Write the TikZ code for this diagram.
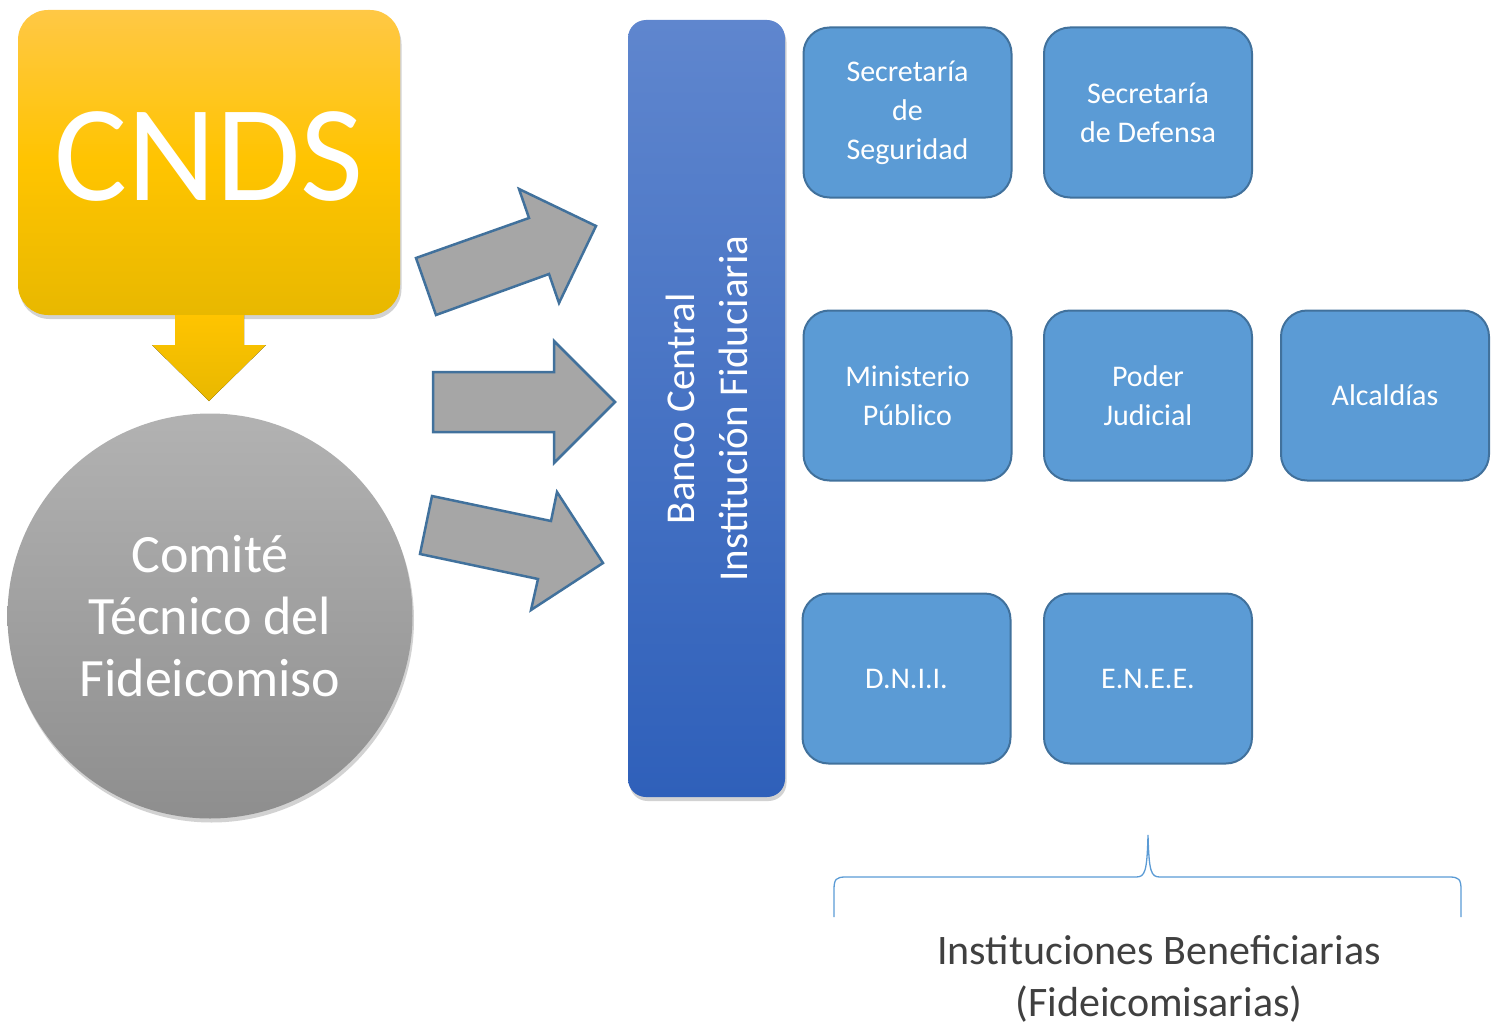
\documentclass[tikz,border=0pt]{standalone}
\usepackage{fontspec}
\setmainfont{Carlito}
\usetikzlibrary{shadows,positioning}
\definecolor{boxblue}{HTML}{5B9BD5}
\definecolor{boxline}{HTML}{41719C}
\definecolor{arrgray}{HTML}{A6A6A6}
\definecolor{goldtop}{HTML}{FFC845}
\definecolor{goldmid}{HTML}{FFC400}
\definecolor{goldbot}{HTML}{E8B800}
\definecolor{bartop}{HTML}{5F86CE}
\definecolor{barbot}{HTML}{2F60BA}
\definecolor{circtop}{HTML}{B2B2B2}
\definecolor{circbot}{HTML}{8E8E8E}
\definecolor{textgray}{HTML}{404040}
\tikzset{
  benef/.style={draw=boxline, line width=2pt, fill=boxblue, rounded corners=26pt,
    minimum width=208pt, minimum height=170pt, inner sep=0pt,
    text=white, font=\fontsize{30pt}{39pt}\selectfont, align=center},
  blockarrow/.style={draw=boxline, line width=2.5pt, fill=arrgray, line join=miter},
  softshadow/.style={drop shadow={shadow xshift=1.5pt, shadow yshift=-4pt, opacity=0.25, fill=black!70}},
}
\begin{document}
\begin{tikzpicture}[x=1pt,y=-1pt]
\useasboundingbox (0,0) rectangle (1499,1030);
% CNDS box
\node[softshadow, rounded corners=30pt, top color=goldtop, bottom color=goldbot, middle color=goldmid,
  minimum width=382pt, minimum height=305pt, inner sep=0pt] (cnds) at (209,162.5) {};
\node[text=white, inner sep=0pt, font=\fontsize{137pt}{137pt}\selectfont] (cndstxt) at (209,157) {CNDS};
% down arrow
\coordinate (dA) at (175,315);
\fill[top color=goldmid, bottom color=goldbot] (175,315) -- (244,315) -- (244,345) -- (266,345) -- (209,401) -- (152,345) -- (175,345) -- cycle;
% circle
\node[softshadow, circle, minimum size=405pt, inner sep=0pt, top color=circtop, bottom color=circbot,
  text=white, font=\fontsize{54pt}{62pt}\selectfont, align=center] (comite) at (210,616)
  {Comit\'e\\T\'ecnico del\\Fideicomiso};
% bar
\node[softshadow, rounded corners=18pt, top color=bartop, bottom color=barbot,
  minimum width=157pt, minimum height=777pt, inner sep=0pt] (banco) at (706.5,408.5) {};
\node[rotate=90, text=white, font=\fontsize{41pt}{53pt}\selectfont, align=center] (bancotxt) at (banco.center)
  {Banco Central\\Instituci\'on Fiduciaria};
% block arrows
\draw[blockarrow] (436,315) -- (416,258) -- (529,218) -- (519,189) -- (596,226) -- (559,303) -- (549,274) -- cycle;
\draw[blockarrow] (433,372) -- (554,372) -- (554,341) -- (615,402) -- (554,463) -- (554,432) -- (433,432) -- cycle;
\draw[blockarrow] (432,496) -- (551,521) -- (557,492) -- (603,563) -- (531,610) -- (538,579) -- (420,554) -- cycle;
% beneficiary boxes
\node[benef] (segur) at (907.5,112.5) {Secretar\'ia\\de\\Seguridad};
\node[benef] (defensa) at (1148,112.5) {Secretar\'ia\\de Defensa};
\node[benef] (minpub) at (907.5,395.5) {Ministerio\\P\'ublico};
\node[benef] (poder) at (1148,395.5) {Poder\\Judicial};
\node[benef] (alcal) at (1385,395.5) {Alcald\'ias};
\node[benef] (dnii) at (906.5,678.5) {D.N.I.I.};
\node[benef] (enee) at (1148,678.5) {E.N.E.E.};
% brace
\coordinate (bl) at (834,917);
\coordinate (br) at (1461,917);
\coordinate (bt) at (1148,835);
\draw[boxblue, line width=1.3pt] (bl) -- (834,890) .. controls (834,879) and (836,877) .. (846,877)
  -- (1136,877) .. controls (1145,877) and (1147,872) .. (bt)
  .. controls (1149,872) and (1151,877) .. (1160,877) -- (1449,877)
  .. controls (1459,877) and (1461,879) .. (1461,890) -- (br);
% caption
\node[text=textgray, font=\fontsize{42pt}{52pt}\selectfont, align=center] (caption) at (1159,979)
  {Instituciones Beneficiarias\\(Fideicomisarias)};
\end{tikzpicture}
\end{document}
